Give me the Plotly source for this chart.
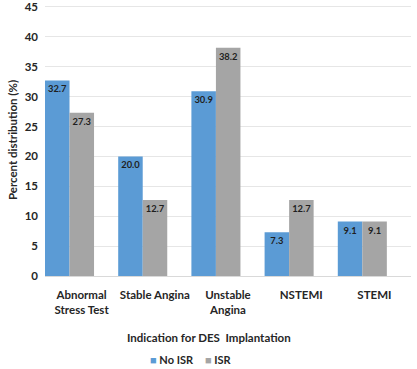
import plotly.graph_objects as go

categories = ["Abnormal<br>Stress Test", "Stable Angina", "Unstable<br>Angina", "NSTEMI", "STEMI"]
no_isr = [32.7, 20.0, 30.9, 7.3, 9.1]
isr = [27.3, 12.7, 38.2, 12.7, 9.1]
y_ticks = [0, 5, 10, 15, 20, 25, 30, 35, 40, 45]
series_names = ["No ISR", "ISR"]
series_colors = ["#5B9BD5", "#A5A5A5"]

FONT = "Lato"
TXT = "#262626"
W = 0.335

fig = go.Figure()
for name, vals, color, off in [(series_names[0], no_isr, series_colors[0], -0.5),
                               (series_names[1], isr, series_colors[1], -0.5 + W)]:
    fig.add_trace(go.Bar(
        name=name, x=categories, y=vals, width=W, offset=off,
        marker=dict(color=color, line=dict(width=0)),
        text=[f"{v:.1f}" for v in vals], textposition="inside",
        insidetextanchor="end", textangle=0,
        textfont=dict(family=FONT, size=10.5, color="#1f1f1f", weight=700),
        showlegend=False,
    ))

fig.update_layout(
    width=417, height=369,
    margin=dict(l=45, r=6, t=4, b=93, autoexpand=False),
    paper_bgcolor="white", plot_bgcolor="white",
    barmode="overlay",
    font=dict(family=FONT, size=11.5, color=TXT, weight=700),
    showlegend=False,
    uniformtext=dict(minsize=8, mode="show"),
    annotations=[
        dict(text="Indication for DES  Implantation", xref="paper", yref="paper",
             x=0.448, y=-0.2268, xanchor="center", yanchor="middle", showarrow=False,
             font=dict(family=FONT, size=11.5, color=TXT, weight=700)),
        dict(text=f'<span style="color:{series_colors[0]}">■</span> {series_names[0]}',
             xref="paper", yref="paper", x=0.3465, y=-0.3086,
             xanchor="center", yanchor="middle", showarrow=False,
             font=dict(family=FONT, size=11, color=TXT, weight=700)),
        dict(text=f'<span style="color:{series_colors[1]}">■</span> {series_names[1]}',
             xref="paper", yref="paper", x=0.4754, y=-0.3086,
             xanchor="center", yanchor="middle", showarrow=False,
             font=dict(family=FONT, size=11, color=TXT, weight=700)),
    ],
)
fig.update_xaxes(
    automargin=False, range=[-0.5, 4.5],
    showgrid=False, showline=True, linecolor="#D9D9D9", linewidth=1,
    ticks="", ticklabelstandoff=8,
    tickfont=dict(family=FONT, size=11.5, color=TXT, weight=700),
)
fig.update_yaxes(
    automargin=False, autorange=False,
    range=[0, 45.5], tickmode="array", tickvals=y_ticks, showgrid=True,
    gridcolor="#E6E6E6", gridwidth=1,
    zeroline=False, showline=False, ticks="", ticklabelstandoff=6,
    tickfont=dict(family=FONT, size=11.5, color=TXT, weight=700),
    title=dict(text="Percent distribution (%)", standoff=4,
               font=dict(family=FONT, size=11.5, color=TXT, weight=700)),
)

fig.write_html("out.html", config={"displayModeBar": False},
               post_script="document.body.style.margin='0';")
